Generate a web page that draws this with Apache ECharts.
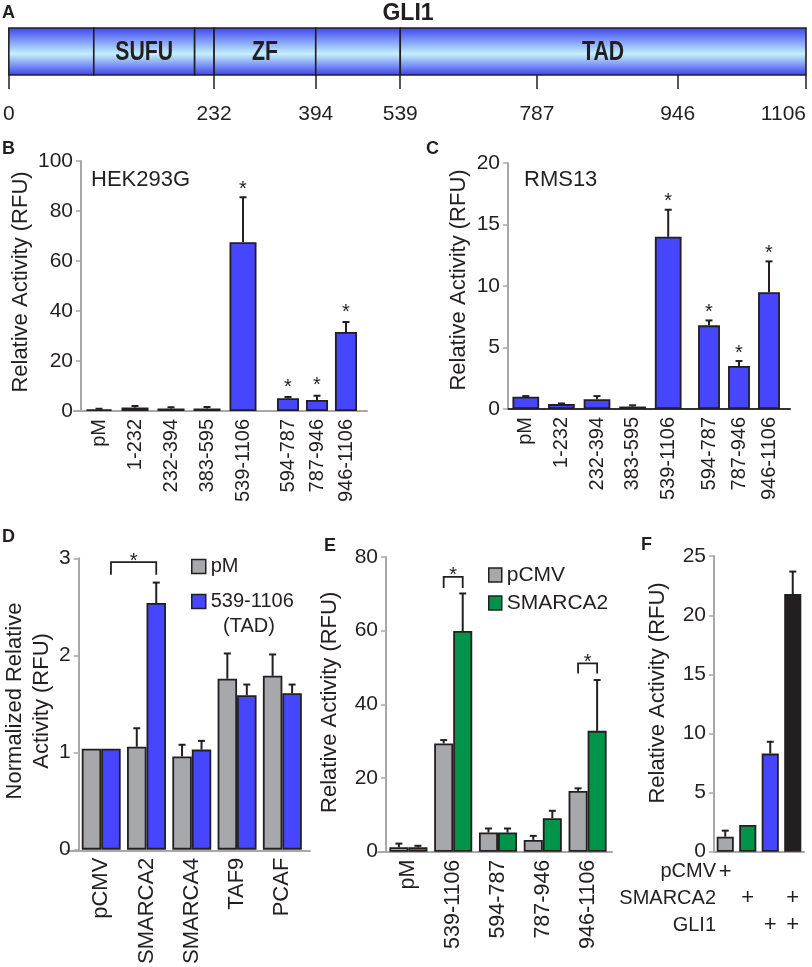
<!DOCTYPE html>
<html><head><meta charset="utf-8">
<script src="https://cdn.jsdelivr.net/npm/echarts@6/dist/echarts.min.js"></script>
<style>html,body{margin:0;padding:0;background:#fff}#c{width:812px;height:967px}</style>
</head><body><div id="c"></div>
<script>
// ---------------- DATA ----------------
// Panel A: GLI1 schematic (residues)
const gliTickResidues = [0, 232, 394, 539, 787, 946, 1106];
const gliDomainStarts = [0, 96, 210, 232, 394, 539];
const gliDomainEnds   = [96, 210, 232, 394, 539, 1106];
const gliDomainNames  = ['', 'SUFU', '', 'ZF', '', 'TAD'];

// Panel B: HEK293G
const bCatsA = ['pM', '1-232', '232-394', '383-595', '539-1106'];
const bValsA = [0.7, 1.4, 1.0, 1.0, 67.5];
const bErrA  = [0.9, 2.0, 1.5, 1.6, 85.5];
const bSigA  = [false, false, false, false, true];
const bCatsB = ['594-787', '787-946', '946-1106'];
const bValsB = [5.1, 4.4, 31.6];
const bErrB  = [5.6, 6.1, 35.6];
const bSigB  = [true, true, true];

// Panel C: RMS13
const cCatsA = ['pM', '1-232', '232-394', '383-595', '539-1106'];
const cValsA = [1.0, 0.4, 0.8, 0.2, 14.0];
const cErrA  = [1.05, 0.45, 1.05, 0.3, 16.2];
const cSigA  = [false, false, false, false, true];
const cCatsB = ['594-787', '787-946', '946-1106'];
const cValsB = [6.8, 3.5, 9.5];
const cErrB  = [7.2, 3.9, 12.0];
const cSigB  = [true, true, true];

// Panel D: normalized activity
const dCats   = ['pCMV', 'SMARCA2', 'SMARCA4', 'TAF9', 'PCAF'];
const dPM     = [1.04, 1.06, 0.96, 1.76, 1.79];
const dPMErr  = [null, 1.25, 1.08, 2.02, 2.01];
const dTAD    = [1.04, 2.54, 1.03, 1.59, 1.61];
const dTADErr = [null, 2.75, 1.12, 1.70, 1.70];
const dSigPairs = [[0, 1, 1, 1]];   // [cat, series, cat, series]
const dSigTop   = [2.96];
const dSigLeg   = [2.83];

// Panel E
const eCats    = ['pM', '539-1106', '594-787', '787-946', '946-1106'];
const ePCMV    = [1.2, 29.4, 5.2, 3.2, 16.5];
const ePCMVErr = [2.2, 30.3, 6.3, 4.3, 17.2];
const eSM      = [1.2, 59.9, 5.2, 9.1, 32.8];
const eSMErr   = [1.6, 70.1, 6.3, 11.1, 46.6];
const eSigPairs = [[1, 0, 1, 1], [4, 0, 4, 1]];
const eSigTop   = [74.6, 51.1];
const eSigLeg   = [71.6, 48.4];

// Panel F
const fCats = ['pCMV', 'SMARCA2', 'GLI1', 'SMARCA2+GLI1'];
const fVals = [1.27, 2.26, 8.3, 21.8];
const fErr  = [1.78, null, 9.3, 23.7];
const fRowNames   = ['pCMV', 'SMARCA2', 'GLI1'];
const fRowPCMV    = ['+', '', '', ''];
const fRowSMARCA2 = ['', '+', '', '+'];
const fRowGLI1    = ['', '', '+', '+'];

// ---------------- STYLE ----------------
const FONT = '"Liberation Sans", Arial, Helvetica, sans-serif';
const TXT = '#231f20';
const AXG = '#a8a8a8';
const BLUE = '#4646ff';
const GRAY = '#a7a8ab';
const GREEN = '#00944a';
const BLACK = '#231f20';
const fColors = [GRAY, GREEN, BLUE, BLACK];
const fRowOffsets = [20, 46.6, 73.3];
const F_AXIS_Y = 556.2 + 295.5;
const F_LEFT = 714;

// schematic is not drawn to scale: piecewise mapping residue -> fraction of bar
const schemFrac = [0, 0.2575, 0.385, 0.491, 0.6625, 0.839, 1];
function toSchem(r) {
  for (let i = 1; i < gliTickResidues.length; i++) {
    if (r <= gliTickResidues[i]) {
      const t = (r - gliTickResidues[i - 1]) / (gliTickResidues[i] - gliTickResidues[i - 1]);
      return schemFrac[i - 1] + t * (schemFrac[i] - schemFrac[i - 1]);
    }
  }
  return 1;
}
const tickPos = gliTickResidues.map(toSchem);

// ---------------- HELPERS ----------------
function slotX(api, cat, slot, nSlots, gap) {
  const c = api.coord([cat, 0])[0];
  const band = api.size([1, 0])[0];
  const gw = band * (1 - gap);
  const bw = gw / nSlots;
  return c - gw / 2 + bw * (slot + 0.5);
}
function errSeries(ai, vals, errs, slot, nSlots, gap) {
  const data = [];
  vals.forEach((v, i) => { if (errs[i] != null && errs[i] > v) data.push([i, v, errs[i]]); });
  return {
    type: 'custom', xAxisIndex: ai, yAxisIndex: ai, z: 5, silent: true,
    encode: { x: 0, y: [1, 2] }, data,
    renderItem(params, api) {
      const cat = api.value(0);
      const x = slotX(api, cat, slot, nSlots, gap);
      const y0 = api.coord([cat, api.value(1)])[1];
      const y1 = api.coord([cat, api.value(2)])[1];
      return { type: 'group', children: [
        { type: 'line', shape: { x1: x, y1: y0, x2: x, y2: y1 }, style: { stroke: BLACK, lineWidth: 2 } },
        { type: 'line', shape: { x1: x - 3.5, y1: y1, x2: x + 3.5, y2: y1 }, style: { stroke: BLACK, lineWidth: 2 } }
      ] };
    }
  };
}
function starSeries(ai, errs, flags, gapPx) {
  const data = [];
  errs.forEach((e, i) => { if (flags[i]) data.push([i, e]); });
  return {
    type: 'custom', xAxisIndex: ai, yAxisIndex: ai, z: 6, silent: true,
    encode: { x: 0, y: 1 }, data,
    renderItem(params, api) {
      const p = api.coord([api.value(0), api.value(1)]);
      return { type: 'text', x: p[0], y: p[1] - gapPx,
        style: { text: '*', font: '20px ' + FONT, fill: TXT, textAlign: 'center', textVerticalAlign: 'middle' } };
    }
  };
}
function bracketSeries(ai, pairs, tops, legs, nSlots, gap) {
  const data = pairs.map((p, i) => [p[0], p[1], p[2], p[3], tops[i], legs[i]]);
  return {
    type: 'custom', xAxisIndex: ai, yAxisIndex: ai, z: 6, silent: true,
    encode: { x: [0, 2], y: [4, 5] }, data,
    renderItem(params, api) {
      const xa = slotX(api, api.value(0), api.value(1), nSlots, gap);
      const xb = slotX(api, api.value(2), api.value(3), nSlots, gap);
      const yt = api.coord([0, api.value(4)])[1];
      const yl = api.coord([0, api.value(5)])[1];
      return { type: 'group', children: [
        { type: 'polyline', shape: { points: [[xa, yl], [xa, yt], [xb, yt], [xb, yl]] },
          style: { stroke: BLACK, lineWidth: 1.8, fill: null } },
        { type: 'text', x: (xa + xb) / 2, y: yt - 1,
          style: { text: '*', font: '20px ' + FONT, fill: TXT, textAlign: 'center', textVerticalAlign: 'middle' } }
      ] };
    }
  };
}
const lbl = (size) => ({ fontSize: size, color: TXT, fontFamily: FONT });
function catAxis(gi, data, size) {
  return { gridIndex: gi, type: 'category', data,
    axisLine: { show: false }, axisTick: { show: false },
    axisLabel: Object.assign({ interval: 0, rotate: 90, margin: 8 }, lbl(size)) };
}
function lineAxis(gi, color) {
  return { gridIndex: gi, type: 'value', min: 0, max: 1,
    axisLine: { show: true, onZero: false, lineStyle: { color, width: 2 } },
    axisTick: { show: false }, axisLabel: { show: false }, splitLine: { show: false } };
}
function hiddenY(gi, min, max) {
  return { gridIndex: gi, type: 'value', min, max, show: false, splitLine: { show: false } };
}
function valY(gi, min, max, interval, name, gap, pad) {
  return { gridIndex: gi, type: 'value', min, max, interval,
    axisLine: { show: true, lineStyle: { color: AXG, width: 2 } },
    axisTick: { show: true, length: 5, lineStyle: { color: AXG, width: 1.5 } },
    axisLabel: Object.assign({ margin: 8 }, lbl(21)),
    splitLine: { show: false },
    name, nameLocation: 'middle', nameGap: gap,
    nameTextStyle: { fontSize: 22, color: TXT, fontFamily: FONT, lineHeight: 27, padding: pad || 0 } };
}
function fRowAxis(marks, off) {
  return { gridIndex: 11, type: 'category', data: fCats, position: 'bottom', offset: off,
    axisLine: { show: false }, axisTick: { show: false },
    axisLabel: Object.assign({ interval: 0, margin: 0, verticalAlign: 'middle',
      formatter: (v, i) => marks[i] }, lbl(22)) };
}
const barStyle = (color) => ({ color, borderColor: BLACK, borderWidth: 1.8 });

const gradient = new echarts.graphic.LinearGradient(0, 0, 0, 1, [
  { offset: 0, color: '#3c42f2' }, { offset: 0.55, color: '#c4f1fb' }, { offset: 1, color: '#3a3cf0' }
]);

const txt = (t, x, y, font, align) => ({ type: 'text', x, y,
  style: { text: t, font, fill: TXT, textAlign: align || 'left', textVerticalAlign: 'middle' } });

// ---------------- CHART ----------------
const chart = echarts.init(document.getElementById('c'), null, { renderer: 'canvas' });
const option = {
  animation: false,
  backgroundColor: '#fff',
  grid: [
    { left: 6, top: 28, width: 800, height: 47 },          // 0 A
    { left: 81, top: 161, width: 180, height: 250 },       // 1 B1
    { left: 273.5, top: 161, width: 87, height: 250 },     // 2 B2
    { left: 74, top: 161, width: 293, height: 250 },       // 3 B line
    { left: 508, top: 163, width: 178, height: 246 },      // 4 C1
    { left: 694, top: 163, width: 90, height: 246 },       // 5 C2
    { left: 508, top: 163, width: 282, height: 246 },      // 6 C line
    { left: 72, top: 558.3, width: 233, height: 292 },     // 7 D
    { left: 67, top: 558.3, width: 243, height: 292 },     // 8 D line
    { left: 386, top: 557, width: 224, height: 294.7 },    // 9 E
    { left: 378, top: 557, width: 234, height: 294.7 },    // 10 E line
    { left: F_LEFT, top: 556.2, width: 90, height: 295.5 } // 11 F
  ],
  xAxis: [
    { gridIndex: 0, type: 'value', min: 0, max: 1, offset: 9,
      axisLine: { show: false }, splitLine: { show: false },
      axisTick: { show: true, customValues: tickPos, length: 14, lineStyle: { color: BLACK, width: 1.5 } },
      axisLabel: Object.assign({ customValues: tickPos, margin: 20, alignMaxLabel: 'right',
        formatter: (v) => { const i = tickPos.findIndex(t => Math.abs(t - v) < 1e-6); return i >= 0 ? String(gliTickResidues[i]) : ''; }
      }, lbl(21)) },
    catAxis(1, bCatsA, 20),
    catAxis(2, bCatsB, 20),
    lineAxis(3, AXG),
    catAxis(4, cCatsA, 20),
    catAxis(5, cCatsB, 20),
    lineAxis(6, '#333'),
    catAxis(7, dCats, 22),
    lineAxis(8, AXG),
    catAxis(9, eCats, 21.5),
    lineAxis(10, AXG),
    { gridIndex: 11, type: 'category', data: fCats,
      axisLine: { show: true, onZero: false, lineStyle: { color: AXG, width: 2 } },
      axisTick: { show: false }, axisLabel: { show: false } },
    fRowAxis(fRowPCMV, fRowOffsets[0]),
    fRowAxis(fRowSMARCA2, fRowOffsets[1]),
    fRowAxis(fRowGLI1, fRowOffsets[2])
  ],
  yAxis: [
    hiddenY(0, 0, 1),
    valY(1, 0, 100, 20, 'Relative Activity (RFU)', 43, [0, 0, 0, 8]),
    hiddenY(2, 0, 100),
    hiddenY(3, 0, 1),
    valY(4, 0, 20, 5, 'Relative Activity (RFU)', 35, [0, 0, 0, 12]),
    hiddenY(5, 0, 20),
    hiddenY(6, 0, 1),
    valY(7, 0, 3, 1, 'Normalized Relative\nActivity (RFU)', 21, [0, 0, 0, 6]),
    hiddenY(8, 0, 1),
    valY(9, 0, 80, 20, 'Relative Activity (RFU)', 43, [0, 0, 0, 4]),
    hiddenY(10, 0, 1),
    valY(11, 0, 25, 5, 'Relative Activity (RFU)', 43, [0, 0, 0, 22])
  ],
  legend: [
    { data: ['pM', '539-1106'], orient: 'vertical', left: 191, top: 556.5, padding: 0,
      itemGap: 15, itemWidth: 14, itemHeight: 14, icon: 'rect', selectedMode: false,
      itemStyle: { borderColor: BLACK, borderWidth: 1.5 }, textStyle: lbl(20) },
    { data: ['pCMV', 'SMARCA2'], orient: 'vertical', left: 488, top: 564.5, padding: 0,
      itemGap: 7, itemWidth: 13, itemHeight: 14, icon: 'rect', selectedMode: false,
      itemStyle: { borderColor: BLACK, borderWidth: 1.5 }, textStyle: lbl(21) }
  ],
  graphic: [
    txt('A', 2, 13, 'bold 18px ' + FONT),
    txt('GLI1', 408, 14, 'bold 23px ' + FONT, 'center'),
    txt('B', 2, 149.5, 'bold 18px ' + FONT),
    txt('C', 426, 149.5, 'bold 18px ' + FONT),
    txt('D', 2, 537, 'bold 18px ' + FONT),
    txt('E', 324, 546, 'bold 18px ' + FONT),
    txt('F', 641, 545, 'bold 18px ' + FONT),
    txt('HEK293G', 91, 180, '22px ' + FONT),
    txt('RMS13', 524, 180, '22px ' + FONT),
    txt('(TAD)', 249, 626, '20px ' + FONT, 'center')
  ].concat(fRowNames.map((n, i) => txt(n, F_LEFT + 2, F_AXIS_Y + fRowOffsets[i], '20px ' + FONT, 'right'))),
  series: [
    // A schematic
    { type: 'custom', xAxisIndex: 0, yAxisIndex: 0, silent: true, encode: { x: [0, 1] },
      data: gliDomainStarts.map((s, i) => [toSchem(s), toSchem(gliDomainEnds[i])]),
      renderItem(params, api) {
        const p0 = api.coord([api.value(0), 1]);
        const p1 = api.coord([api.value(1), 0]);
        const name = gliDomainNames[params.dataIndex];
        return { type: 'group', children: [
          { type: 'rect', shape: { x: p0[0], y: p0[1], width: p1[0] - p0[0], height: p1[1] - p0[1] },
            style: { fill: gradient, stroke: BLACK, lineWidth: 1.6 } },
          { type: 'text', x: (p0[0] + p1[0]) / 2, y: (p0[1] + p1[1]) / 2 + 1, scaleX: 0.76,
            style: { text: name, font: 'bold 28px ' + FONT, fill: TXT, textAlign: 'center', textVerticalAlign: 'middle' } }
        ] };
      } },
    // B
    { name: 'B1', type: 'bar', xAxisIndex: 1, yAxisIndex: 1, data: bValsA, barCategoryGap: '25%', itemStyle: barStyle(BLUE) },
    { name: 'B2', type: 'bar', xAxisIndex: 2, yAxisIndex: 2, data: bValsB, barCategoryGap: '24%', itemStyle: barStyle(BLUE) },
    errSeries(1, bValsA, bErrA, 0, 1, 0.25),
    errSeries(2, bValsB, bErrB, 0, 1, 0.24),
    starSeries(1, bErrA, bSigA, 8),
    starSeries(2, bErrB, bSigB, 10),
    // C
    { name: 'C1', type: 'bar', xAxisIndex: 4, yAxisIndex: 4, data: cValsA, barCategoryGap: '25%', itemStyle: barStyle(BLUE) },
    { name: 'C2', type: 'bar', xAxisIndex: 5, yAxisIndex: 5, data: cValsB, barCategoryGap: '27%', itemStyle: barStyle(BLUE) },
    errSeries(4, cValsA, cErrA, 0, 1, 0.25),
    errSeries(5, cValsB, cErrB, 0, 1, 0.27),
    starSeries(4, cErrA, cSigA, 8),
    starSeries(5, cErrB, cSigB, 8),
    // D
    { name: 'pM', type: 'bar', xAxisIndex: 7, yAxisIndex: 7, data: dPM, barGap: 0, barCategoryGap: '14%', itemStyle: barStyle(GRAY) },
    { name: '539-1106', type: 'bar', xAxisIndex: 7, yAxisIndex: 7, data: dTAD, barGap: 0, barCategoryGap: '14%', itemStyle: barStyle(BLUE) },
    errSeries(7, dPM, dPMErr, 0, 2, 0.14),
    errSeries(7, dTAD, dTADErr, 1, 2, 0.14),
    bracketSeries(7, dSigPairs, dSigTop, dSigLeg, 2, 0.14),
    // E
    { name: 'pCMV', type: 'bar', xAxisIndex: 9, yAxisIndex: 9, data: ePCMV, barGap: 0, barCategoryGap: '15%', itemStyle: barStyle(GRAY) },
    { name: 'SMARCA2', type: 'bar', xAxisIndex: 9, yAxisIndex: 9, data: eSM, barGap: 0, barCategoryGap: '15%', itemStyle: barStyle(GREEN) },
    errSeries(9, ePCMV, ePCMVErr, 0, 2, 0.15),
    errSeries(9, eSM, eSMErr, 1, 2, 0.15),
    bracketSeries(9, eSigPairs, eSigTop, eSigLeg, 2, 0.15),
    // F
    { name: 'F', type: 'bar', xAxisIndex: 11, yAxisIndex: 11, barCategoryGap: '24%',
      data: fVals.map((v, i) => ({ value: v, itemStyle: barStyle(fColors[i]) })) },
    errSeries(11, fVals, fErr, 0, 1, 0.24)
  ]
};
chart.setOption(option);
</script>
</body></html>
